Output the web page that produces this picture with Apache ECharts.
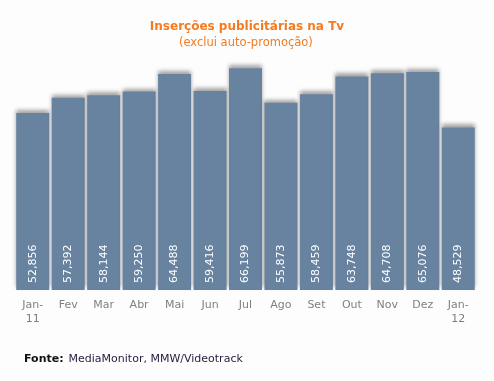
<!DOCTYPE html>
<html><head><meta charset="utf-8">
<script src="https://cdn.jsdelivr.net/npm/echarts@6/dist/echarts.min.js"></script>
<style>html,body{margin:0;padding:0;background:#fdfdfd}#c{width:494px;height:381px}</style>
</head><body><div id="c"></div>
<script>
const categories = ['Jan-\n11','Fev','Mar','Abr','Mai','Jun','Jul','Ago','Set','Out','Nov','Dez','Jan-\n12'];
const values = [52856,57392,58144,59250,64488,59416,66199,55873,58459,63748,64708,65076,48529];
const chart = echarts.init(document.getElementById('c'));
chart.setOption({
  backgroundColor:'#fdfdfd',
  animation:false,
  title:[
    {text:'Inserções publicitárias na Tv', left:'center', top:16, textStyle:{fontFamily:'DejaVu Sans',fontSize:12,fontWeight:'bold',color:'#f47b20'}},
    {text:'(exclui auto-promoção)', left:174, top:32, textStyle:{fontFamily:'DejaVu Sans',fontSize:11.5,fontWeight:'normal',color:'#f47b20'}},
    {text:'{b|Fonte:} {n|MediaMonitor, MMW/Videotrack}', left:19, top:345, textStyle:{fontWeight:'normal',rich:{b:{fontFamily:'DejaVu Sans',fontSize:11,fontWeight:'bold',color:'#111'},n:{fontFamily:'DejaVu Sans',fontSize:11,fontWeight:'normal',color:'#2a1a40'}}}}
  ],
  grid:{left:15,right:18,top:22,bottom:91},
  xAxis:{type:'category',data:categories,axisLine:{show:false},axisTick:{show:false},
    axisLabel:{color:'#808080',fontFamily:'DejaVu Sans',fontSize:11,margin:8,lineHeight:14}},
  yAxis:{type:'value',min:0,max:80000,show:false,splitLine:{show:false}},
  series:[{type:'bar',data:values,barWidth:33,
    itemStyle:{color:'#6883a0',shadowColor:'rgba(0,0,0,0.35)',shadowBlur:4,shadowOffsetY:-3},
    label:{show:true,position:'insideBottom',rotate:90,align:'left',verticalAlign:'middle',distance:7,
      color:'#fff',fontFamily:'DejaVu Sans',fontSize:11,
      formatter:p=>p.value.toLocaleString('en-US')}}]
});
</script></body></html>
